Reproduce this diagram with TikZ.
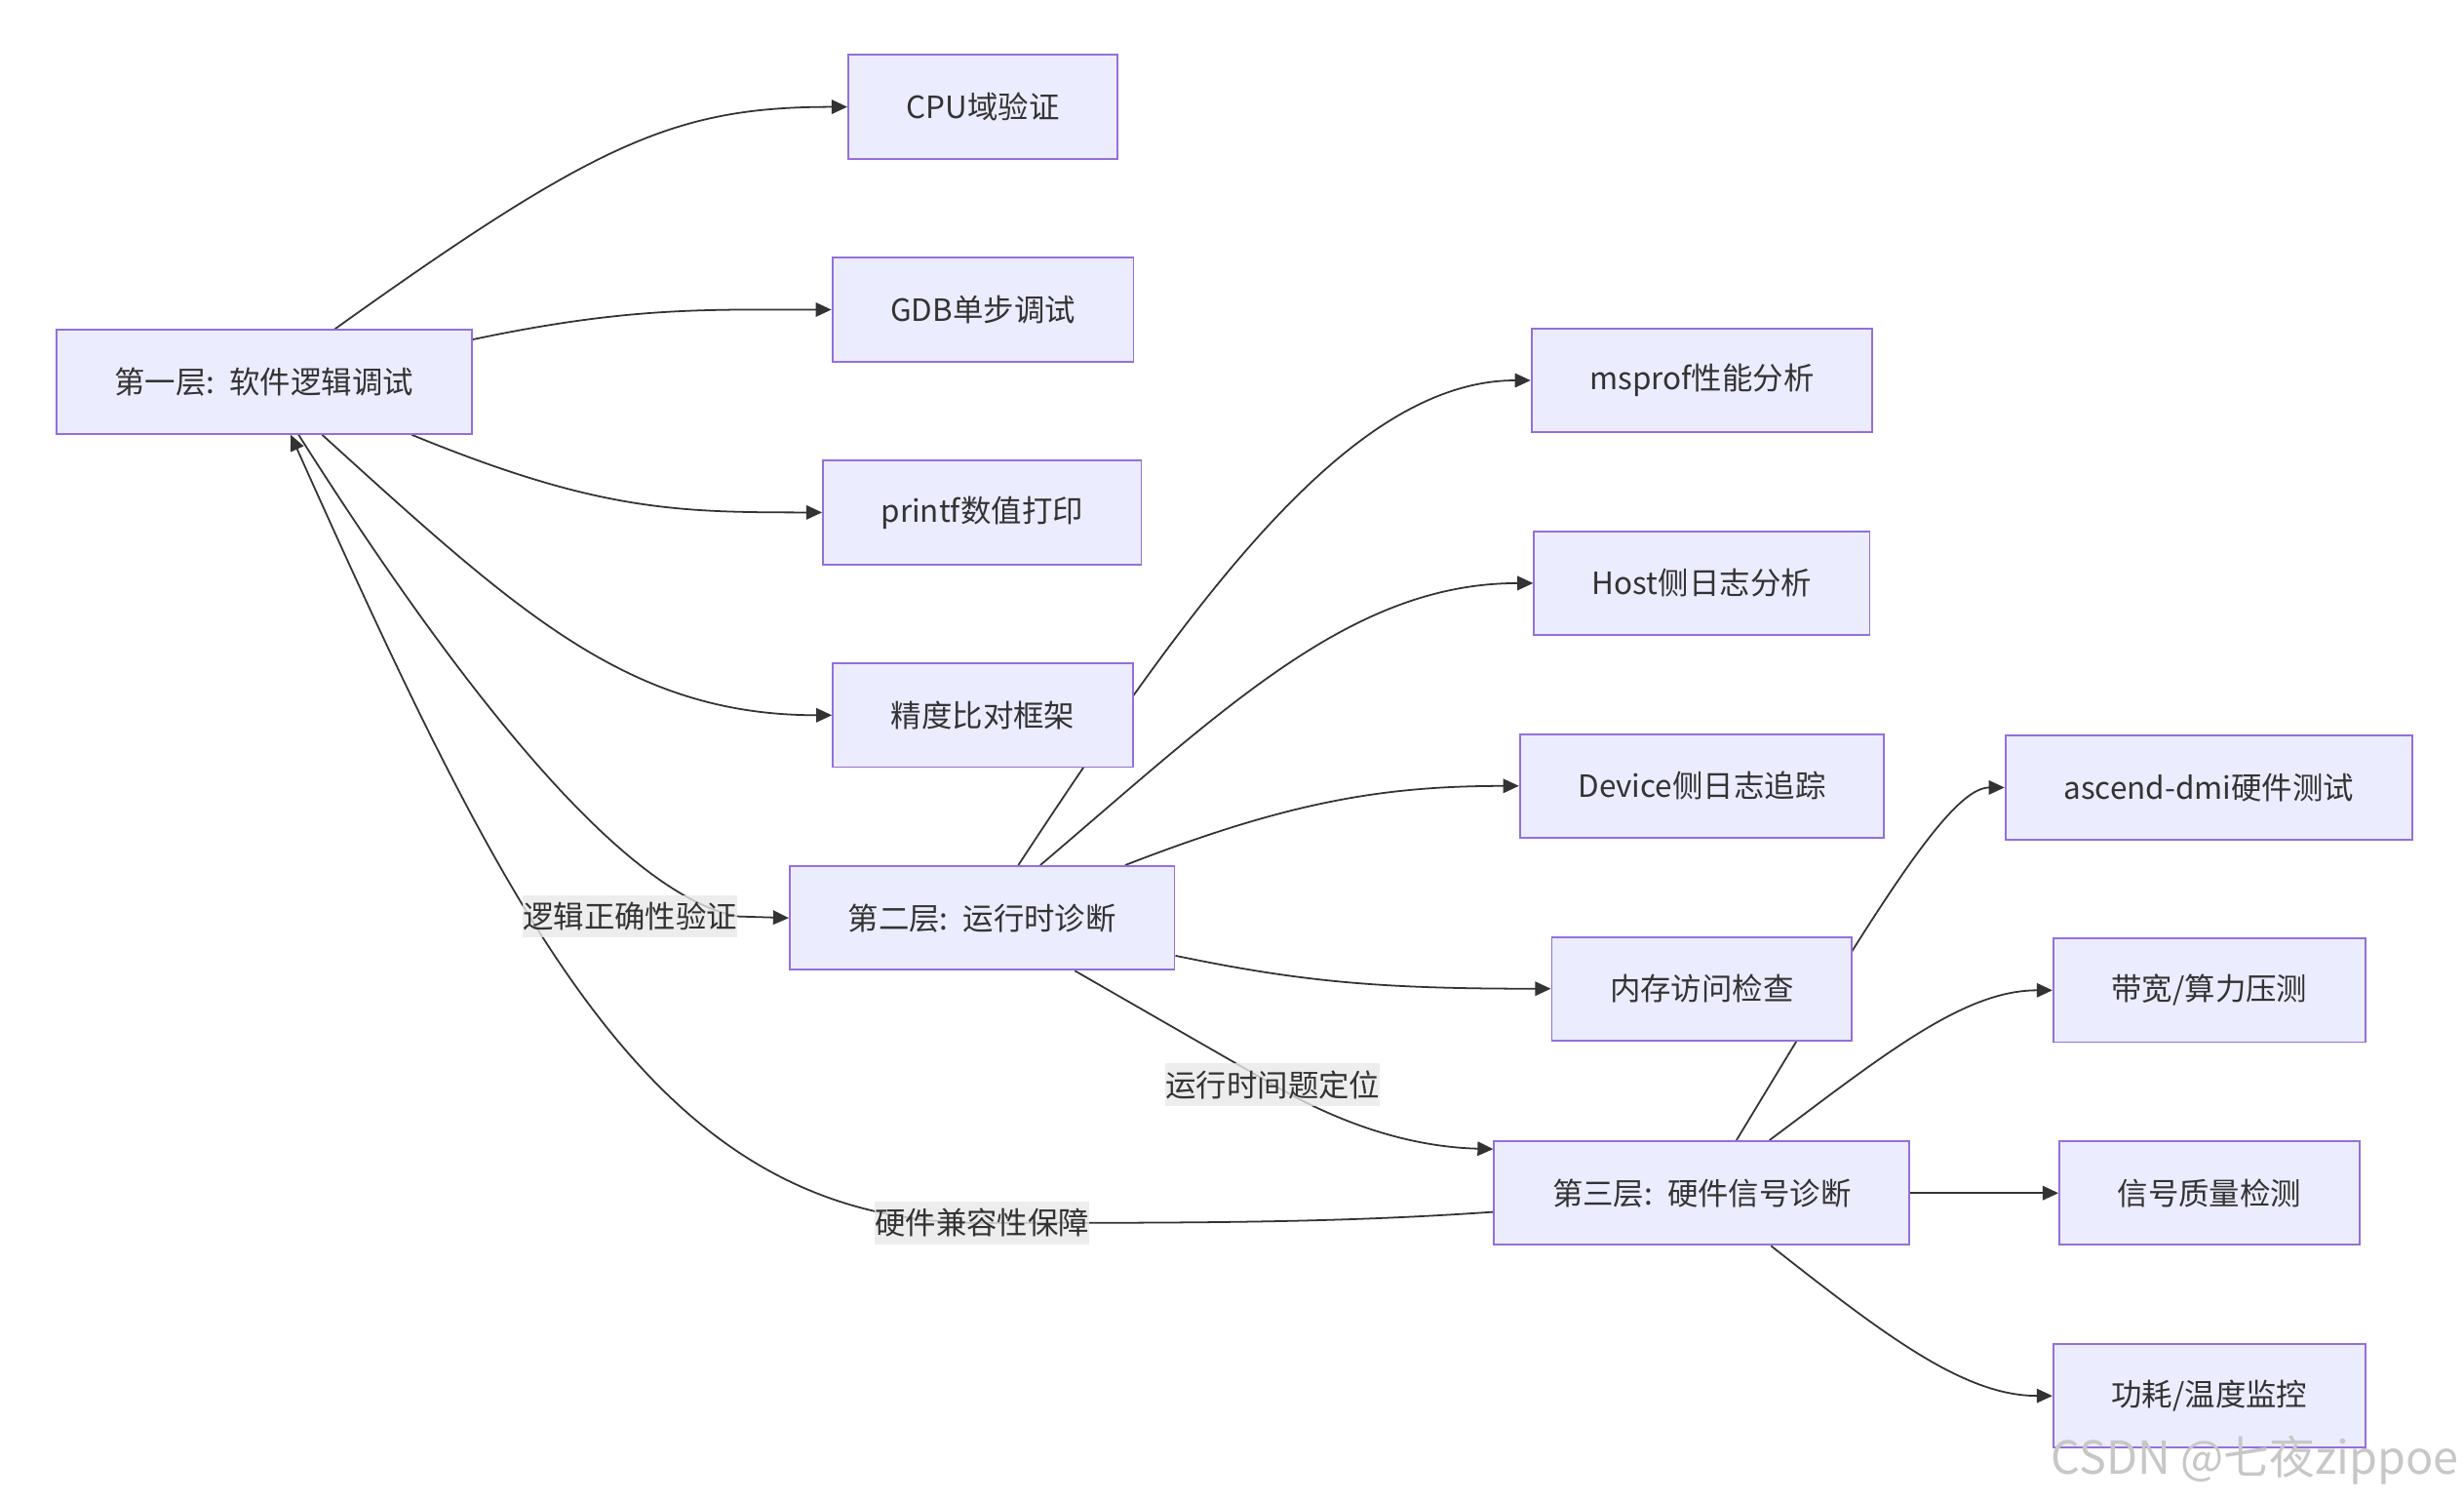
\documentclass[tikz,border=0pt]{standalone}
\usepackage{fontspec}
\setmainfont{Noto Sans CJK SC}
\usetikzlibrary{arrows.meta,backgrounds}
\definecolor{boxfill}{HTML}{ECECFF}
\definecolor{boxline}{HTML}{9370DB}
\definecolor{edgecol}{HTML}{333333}
\definecolor{lblfill}{HTML}{E8E8E8}
\newcommand{\colsp}{:\hspace{0.48em}}
\begin{document}
\begin{tikzpicture}[x=1pt, y=-1pt,
    font=\fontsize{19.5}{24}\selectfont, text=edgecol,
    box/.style={draw=boxline, line width=1.2pt, fill=boxfill, minimum height=66pt, inner xsep=37pt},
    edge/.style={draw=edgecol, line width=1.1pt, -{Triangle[length=10pt,width=9pt]}},
    lbl/.style={fill=lblfill, fill opacity=0.8, text opacity=1, inner xsep=0pt, minimum height=27pt}]
      \useasboundingbox (0,0) rectangle (1568,956);
      % layers
      \node[box] (L1) at (168, 243) {第一层\colsp 软件逻辑调试};
      \node[box] (L2) at (625, 584) {第二层\colsp 运行时诊断};
      \node[box] (L3) at (1083, 759) {第三层\colsp 硬件信号诊断};
      % software tools
      \node[box] (CPU) at (625.5, 68) {CPU域验证};
      \node[box] (GDB) at (625.5, 197) {GDB单步调试};
      \node[box] (PRT) at (625, 326) {printf数值打印};
      \node[box] (ACC) at (625.5, 455) {精度比对框架};
      % runtime tools
      \node[box] (MSP) at (1083, 242) {msprof性能分析};
      \node[box] (HOST) at (1083, 371) {Host侧日志分析};
      \node[box] (DEV) at (1083, 500) {Device侧日志追踪};
      \node[box] (MEM) at (1083, 629) {内存访问检查};
      % hardware tools
      \node[box] (DMI) at (1405.5, 501) {ascend-dmi硬件测试};
      \node[box] (BW) at (1406, 630) {带宽/算力压测};
      \node[box] (SIG) at (1406, 759) {信号质量检测};
      \node[box] (PWR) at (1406, 888) {功耗/温度监控};
      % edge labels
      \node[lbl] (lbA) at (401, 583) {逻辑正确性验证};
      \node[lbl] (lbB) at (810, 690) {运行时间题定位};
      \node[lbl] (lbC) at (625, 778) {硬件兼容性保障};
      \begin{scope}[on background layer]
      \draw[edge] ([xshift=45pt]L1.north) .. controls (380,90) and (430,68) .. (CPU.west);
      \draw[edge] ([yshift=27pt]L1.east) .. controls (400,195) and (450,197) .. (GDB.west);
      \draw[edge] ([xshift=94pt]L1.south) .. controls (380,325) and (430,326) .. (PRT.west);
      \draw[edge] ([xshift=37pt]L1.south) .. controls (330,390) and (400,455) .. (ACC.west);
      \draw[edge] ([xshift=22pt]L1.south) .. controls (300,450) and (400,570) .. (lbA.east) -- (L2.west);
      \draw[edge] ([xshift=23pt]L2.north) .. controls (760,380) and (860,242) .. (MSP.west);
      \draw[edge] ([xshift=37pt]L2.north) .. controls (780,450) and (860,371) .. (HOST.west);
      \draw[edge] ([xshift=91pt]L2.north) .. controls (820,510) and (880,500) .. (DEV.west);
      \draw[edge] ([yshift=-24pt]L2.east) .. controls (830,625) and (880,629) .. (MEM.west);
      \draw[edge] ([xshift=59pt]L2.south) -- (lbB.center) .. controls (865,722) and (910,730) .. ([yshift=28pt]L3.west);
      \draw[edge] ([yshift=-12pt]L3.west) .. controls (850,778) and (760,778) .. (lbC.center)
        .. controls (420,778) and (330,600) .. ([xshift=17pt]L1.south);
      \draw[edge] ([xshift=22pt]L3.north) .. controls (1190,585) and (1240,501) .. (DMI.west);
      \draw[edge] ([xshift=43pt]L3.north) .. controls (1200,670) and (1250,630) .. (BW.west);
      \draw[edge] (L3.east) -- (SIG.west);
      \draw[edge] ([xshift=44pt]L3.south) .. controls (1200,850) and (1250,888) .. (PWR.west);
      \end{scope}
      \node[text=black!22, font=\fontsize{29}{33}\selectfont] (WM) at (1435, 929) {CSDN @七夜zippoe};
    \end{tikzpicture}
\end{document}
